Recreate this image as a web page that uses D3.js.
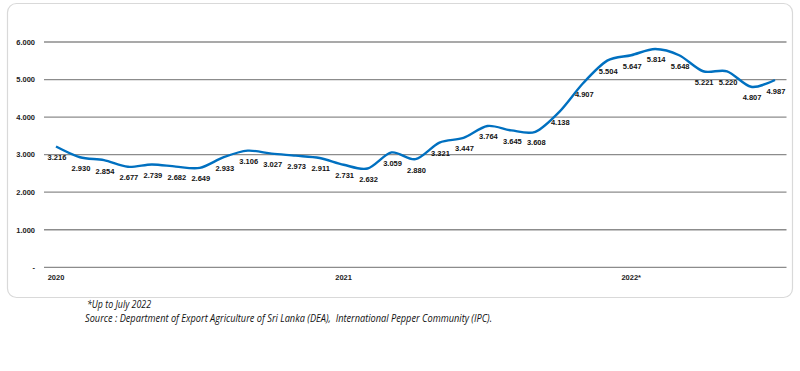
<!DOCTYPE html>
<html>
<head>
<script src="https://d3js.org/d3.v7.min.js"></script>
<style>
body { margin: 0; background: #fff; }
svg { display: block; }
</style>
</head>
<body>
<svg id="chart" width="800" height="371"></svg>
<script>

// monthly price, Jan 2020 .. Jul 2022
var months = d3.range(31);
var prices = [3.216, 2.930, 2.854, 2.677, 2.739, 2.682, 2.649, 2.933, 3.106, 3.027, 2.973, 2.911,
              2.731, 2.632, 3.059, 2.880, 3.321, 3.447, 3.764, 3.645, 3.608, 4.138, 4.907, 5.504,
              5.647, 5.814, 5.648, 5.221, 5.220, 4.807, 4.987];
var yearLabels = ["2020", "2021", "2022*"];
var yearIndex = [0, 12, 24];
var yTicks = [0, 1, 2, 3, 4, 5, 6];
var notes = ["*Up to July 2022",
             "Source : Department of Export Agriculture of Sri Lanka (DEA),  International Pepper Community (IPC)."];

var svg = d3.select("#chart");

// frame
svg.append("rect")
  .attr("x", 7.5).attr("y", 3.5)
  .attr("width", 785).attr("height", 294)
  .attr("rx", 9)
  .attr("fill", "#fff")
  .attr("stroke", "#d9d9d9")
  .attr("stroke-width", 1.2);

var x = d3.scaleLinear().domain([0, 30]).range([56, 775]);
var y = d3.scaleLinear().domain([0, 6]).range([267.3, 42]);

// gridlines
svg.append("g").selectAll("line")
  .data(yTicks)
  .join("line")
  .attr("x1", 44).attr("x2", 786.5)
  .attr("y1", function (d) { return y(d); })
  .attr("y2", function (d) { return y(d); })
  .attr("stroke", "#8c8c8c")
  .attr("stroke-width", 1.3);

var yFmt = function (d) { return d === 0 ? "-" : d3.format(".3f")(d); };

svg.append("g").selectAll("text")
  .data(yTicks)
  .join("text")
  .attr("x", 35)
  .attr("y", function (d) { return y(d) + 2.8; })
  .attr("text-anchor", "end")
  .attr("font-family", "Liberation Sans, Arial, sans-serif")
  .attr("font-weight", "bold")
  .attr("font-size", 7.5)
  .attr("fill", "#222")
  .text(yFmt);

svg.append("g").selectAll("text")
  .data(yearLabels)
  .join("text")
  .attr("x", function (d, i) { return x(yearIndex[i]); })
  .attr("y", 280)
  .attr("text-anchor", "middle")
  .attr("font-family", "Liberation Sans, Arial, sans-serif")
  .attr("font-weight", "bold")
  .attr("font-size", 7.5)
  .attr("fill", "#222")
  .text(function (d) { return d; });

// line
var line = d3.line()
  .x(function (d) { return x(d); })
  .y(function (d) { return y(prices[d]); })
  .curve(d3.curveCardinal.tension(0.1));

svg.append("path")
  .attr("d", line(months))
  .attr("fill", "none")
  .attr("stroke", "#0070c0")
  .attr("stroke-width", 2.4);

// data labels
svg.append("g").selectAll("text")
  .data(months)
  .join("text")
  .attr("x", function (d) { return x(d) + 1; })
  .attr("y", function (d) { return y(prices[d]) + 13.5; })
  .attr("text-anchor", "middle")
  .attr("font-family", "Liberation Sans, Arial, sans-serif")
  .attr("font-weight", "bold")
  .attr("font-size", 7.5)
  .attr("fill", "#111")
  .text(function (d) { return d3.format(".3f")(prices[d]); });

// notes under the frame
svg.append("text")
  .attr("x", 87).attr("y", 308)
  .attr("font-family", "Open Sans, Liberation Sans, sans-serif")
  .attr("font-style", "italic")
  .attr("font-size", 10)
  .attr("fill", "#111")
  .attr("textLength", 64)
  .attr("lengthAdjust", "spacingAndGlyphs")
  .text(notes[0]);

svg.append("text")
  .attr("x", 85).attr("y", 321.5)
  .attr("font-family", "Open Sans, Liberation Sans, sans-serif")
  .attr("font-style", "italic")
  .attr("font-size", 10)
  .attr("fill", "#111")
  .style("white-space", "pre")
  .attr("textLength", 407)
  .attr("lengthAdjust", "spacingAndGlyphs")
  .text(notes[1]);

</script>
</body>
</html>
